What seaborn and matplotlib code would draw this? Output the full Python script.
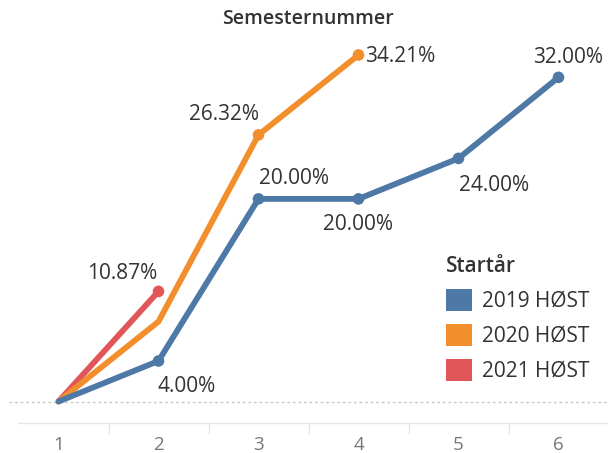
import numpy as np
import pandas as pd
import seaborn as sns
import matplotlib.pyplot as plt
from matplotlib.patches import Patch

# Share of each intake cohort per semester number (percent)
semesters = [1, 2, 3, 4, 5, 6]
cohorts = ["2019 HØST", "2020 HØST", "2021 HØST"]
share_2019 = [0.00, 4.00, 20.00, 20.00, 24.00, 32.00]
share_2020 = [0.00, 7.89, 26.32, 34.21]
share_2021 = [0.00, 10.87]
colors = ["#4E79A7", "#F28E2B", "#E15759"]

# Which points carry a value label
labelled_2019 = [False, True, True, True, True, True]
labelled_2020 = [False, False, True, True]
labelled_2021 = [False, True]

rows = []
for cohort, vals, flags in zip(cohorts,
                               [share_2019, share_2020, share_2021],
                               [labelled_2019, labelled_2020, labelled_2021]):
    for s, v, f in zip(semesters, vals, flags):
        rows.append({"semester": s, "share": v, "cohort": cohort, "labelled": f})
df = pd.DataFrame(rows)
palette = dict(zip(cohorts, colors))

# label placement: (dx px, dy px to baseline, horizontal alignment)
label_pos = {
    ("2019 HØST", 2): (-1, -31.5, "left"),
    ("2019 HØST", 3): (0, 14.5, "left"),
    ("2019 HØST", 4): (0, -31.5, "center"),
    ("2019 HØST", 5): (0, -32.5, "left"),
    ("2019 HØST", 6): (10, 14.5, "center"),
    ("2020 HØST", 3): (0, 14.5, "right"),
    ("2020 HØST", 4): (7, -7.5, "left"),
    ("2021 HØST", 2): (-36, 12.5, "center"),
}

sns.set_theme(style="white")
plt.rcParams["font.family"] = ["Open Sans", "DejaVu Sans"]

W, H = 608, 453
fig = plt.figure(figsize=(W / 100, H / 100), dpi=100)
ax_left, ax_right, ax_top, ax_bot = 8.5, 608.5, 30, 423
ax = fig.add_axes([ax_left / W, 1 - ax_bot / H, (ax_right - ax_left) / W, (ax_bot - ax_top) / H])

px_per_pct = 10.13
zero_px = 401.5
ax.set_xlim(0.5, 6.5)
ax.set_ylim((zero_px - ax_bot) / px_per_pct, (zero_px - ax_top) / px_per_pct)

# zero reference line
ax.axhline(0, color="#c8c8c8", lw=1, ls=(0, (2, 2)), zorder=1)

# lines, drawn so that the earliest cohort sits on top
for cohort in reversed(cohorts):
    sub = df[df["cohort"] == cohort]
    sns.lineplot(data=sub, x="semester", y="share", color=palette[cohort],
                 linewidth=4.2, legend=False, ax=ax, zorder=3,
                 solid_capstyle="round", solid_joinstyle="round")
    pts = sub[sub["labelled"]]
    sns.scatterplot(data=pts, x="semester", y="share", color=palette[cohort],
                    s=70, edgecolor="none", legend=False, ax=ax, zorder=4)

# value labels
for _, r in df[df["labelled"]].iterrows():
    dx, dy, ha = label_pos[(r["cohort"], r["semester"])]
    ax.annotate(f"{r['share']:.2f}%", (r["semester"], r["share"]),
                xytext=(dx, dy), textcoords="offset pixels",
                ha=ha, va="baseline", fontsize=15, color="#333333", zorder=5)

# axes styling
for side in ["top", "right", "left"]:
    ax.spines[side].set_visible(False)
ax.spines["bottom"].set_color("#e6e6e6")
ax.spines["bottom"].set_linewidth(1)
ax.spines["bottom"].set_bounds(0.595, 6.5)
ax.set_yticks([])
ax.set_xticks(semesters)
ax.set_xticklabels([str(s) for s in semesters], fontsize=13.5, color="#777777")
ax.set_xticks(np.arange(1.5, 7, 1), minor=True)
ax.tick_params(axis="x", which="major", length=0, pad=9)
ax.tick_params(axis="x", which="minor", length=8, width=1, color="#e6e6e6", bottom=True)
ax.set_xlabel("")
ax.set_ylabel("")

fig.text(308 / W, 1 - 24.5 / H, "Semesternummer", ha="center", va="baseline",
         fontsize=14, fontweight="semibold", color="#333333")

handles = [Patch(facecolor=c, edgecolor="none") for c in colors]
leg = fig.legend(handles, cohorts, title="Startår", loc="upper left",
                 bbox_to_anchor=(446 / W, 1 - 256 / H), frameon=False,
                 fontsize=15, borderpad=0, borderaxespad=0,
                 handlelength=1.25, handleheight=1.25, handletextpad=0.5,
                 labelspacing=0.57, alignment="left",
                 title_fontproperties={"size": 15, "weight": "semibold"})
for t in leg.get_texts():
    t.set_color("#333333")
leg.get_title().set_color("#333333")

fig.savefig("out.png", dpi=100)
